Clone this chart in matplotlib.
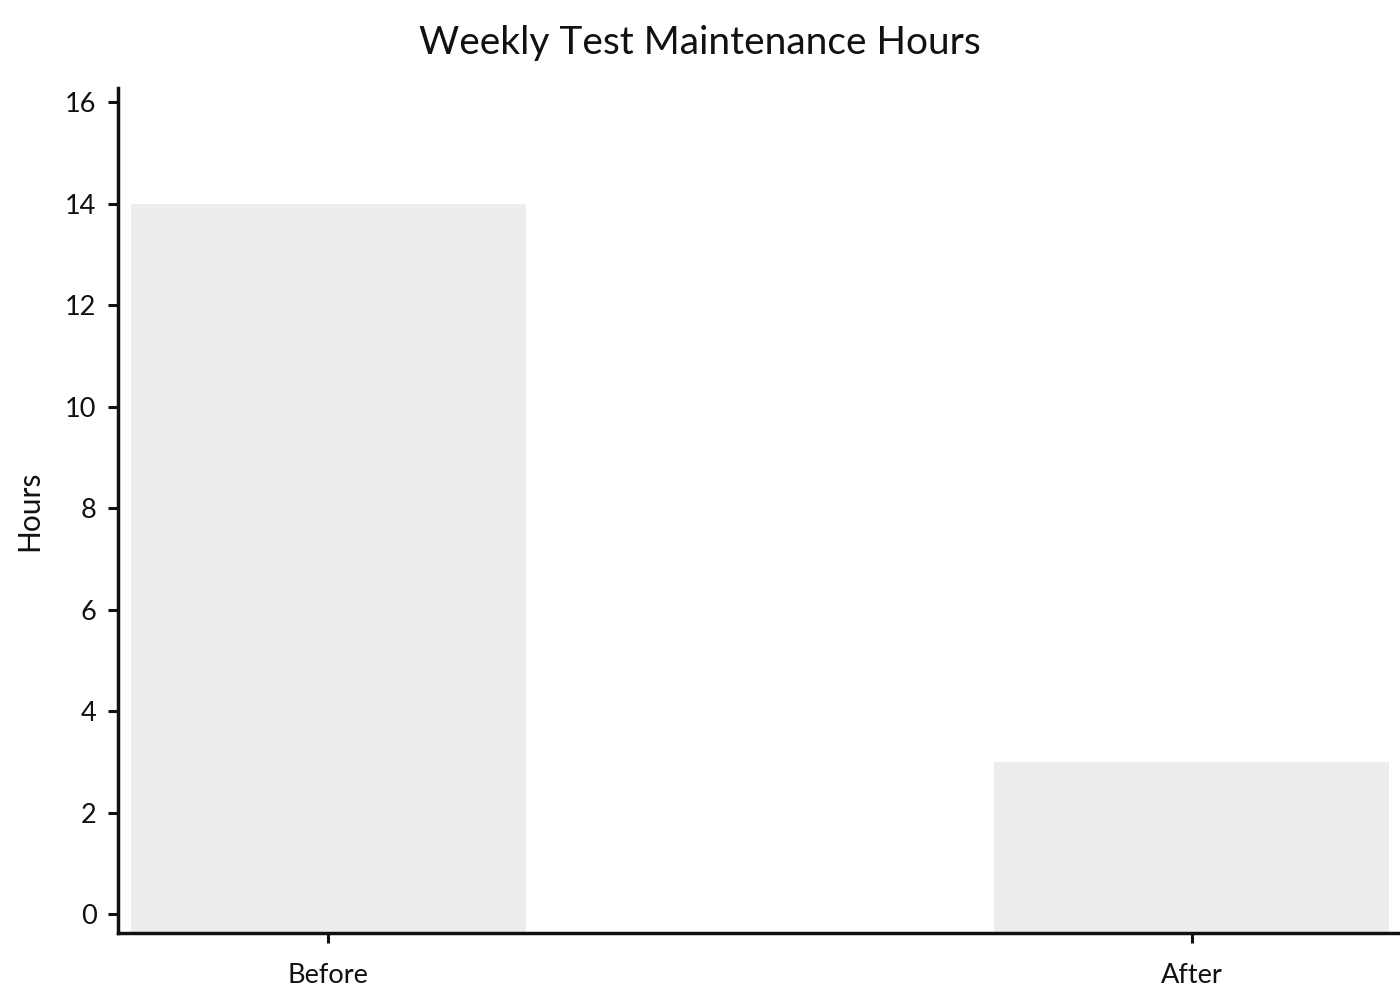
import matplotlib
matplotlib.use("Agg")
import matplotlib.pyplot as plt

# data
categories = ["Before", "After"]
hours = [14, 3]
y_ticks = [0, 2, 4, 6, 8, 10, 12, 14, 16]

plt.rcParams["font.family"] = ["Lato", "DejaVu Sans"]

fig = plt.figure(figsize=(14, 10), dpi=100)
# axes box placed in pixel terms of the 1400x1000 figure
ax = fig.add_axes([118 / 1400, 1 - 933 / 1000, (1402 - 118) / 1400, (933 - 88) / 1000])

y_lo, y_hi = -0.37, 16.28
bar_w = 0.457
x = range(len(categories))
# bars run down to the bottom spine, as in the original
ax.bar(x, [h - y_lo for h in hours], bottom=y_lo, width=bar_w,
       color="#ededed", edgecolor="none")

ax.set_xlim(-bar_w / 2 - 0.015, len(categories) - 1 + bar_w / 2 + 0.015)
ax.set_ylim(y_lo, y_hi)
ax.set_xticks(list(x))
ax.set_xticklabels(categories)
ax.set_yticks(y_ticks)

for side in ("top", "right"):
    ax.spines[side].set_visible(False)
for side in ("left", "bottom"):
    ax.spines[side].set_linewidth(2.5)
    ax.spines[side].set_color("#111111")

ax.tick_params(axis="both", length=7.5, width=2.2, color="#111111",
               labelsize=19.5, labelcolor="#111111", pad=8)
ax.tick_params(axis="x", pad=14)

ax.set_ylabel("Hours", fontsize=21.5, color="#111111", labelpad=16)
fig.suptitle("Weekly Test Maintenance Hours", fontsize=28, color="#111111", y=0.975)

fig.savefig("out.png", dpi=100)
